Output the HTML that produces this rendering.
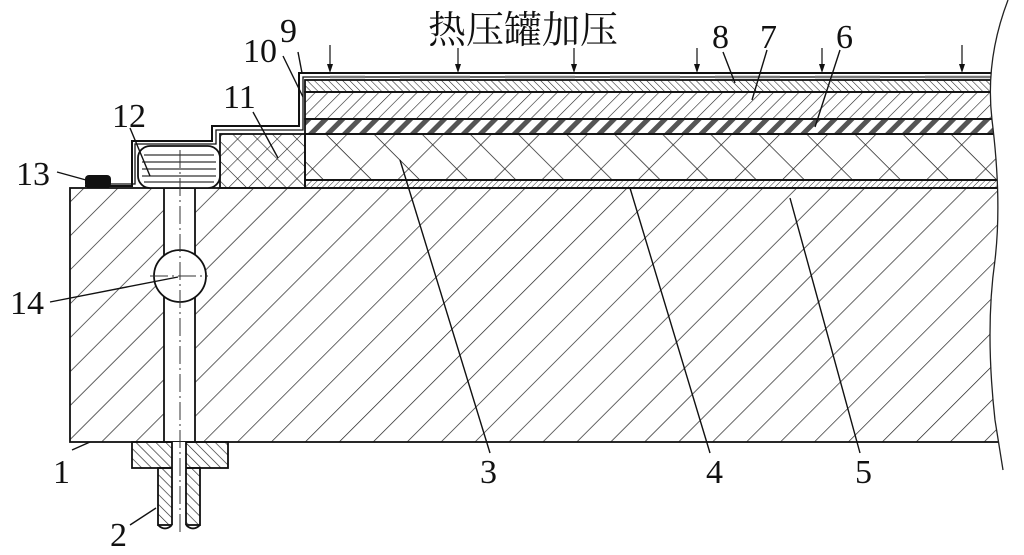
<!DOCTYPE html>
<html><head><meta charset="utf-8"><style>
html,body{margin:0;padding:0;background:#fff;width:1024px;height:555px;overflow:hidden}
svg{display:block}
text{font-family:"Liberation Serif","Noto Serif CJK SC",serif;fill:#111}
</style></head><body>
<svg width="1024" height="555" viewBox="0 0 1024 555" xmlns="http://www.w3.org/2000/svg">
<defs>
<pattern id="base" width="24" height="24" patternUnits="userSpaceOnUse" patternTransform="rotate(45)">
<line x1="0" y1="0" x2="0" y2="24" stroke="#222" stroke-width="1.4"/></pattern>
<pattern id="fit" width="7" height="7" patternUnits="userSpaceOnUse" patternTransform="rotate(-45)">
<line x1="0" y1="0" x2="0" y2="7" stroke="#222" stroke-width="1.3"/></pattern>
<pattern id="l8" width="5" height="5" patternUnits="userSpaceOnUse" patternTransform="rotate(-45)">
<line x1="0" y1="0" x2="0" y2="5" stroke="#222" stroke-width="1.1"/></pattern>
<pattern id="l7" width="9" height="9" patternUnits="userSpaceOnUse" patternTransform="rotate(45)">
<line x1="0" y1="0" x2="0" y2="9" stroke="#222" stroke-width="1.2"/></pattern>
<pattern id="l6" width="12" height="12" patternUnits="userSpaceOnUse" patternTransform="rotate(45)">
<rect x="0" y="0" width="5" height="12" fill="#555"/></pattern>
<pattern id="x3" width="34" height="34" patternUnits="userSpaceOnUse" patternTransform="rotate(45)">
<line x1="0" y1="0" x2="0" y2="34" stroke="#222" stroke-width="1.4"/><line x1="0" y1="0" x2="34" y2="0" stroke="#222" stroke-width="1.4"/></pattern>
<pattern id="x11" width="14" height="14" patternUnits="userSpaceOnUse" patternTransform="rotate(45)">
<line x1="0" y1="0" x2="0" y2="14" stroke="#222" stroke-width="1.2"/><line x1="0" y1="0" x2="14" y2="0" stroke="#222" stroke-width="1.2"/></pattern>
<pattern id="l45" width="4" height="4" patternUnits="userSpaceOnUse" patternTransform="rotate(45)">
<line x1="0" y1="0" x2="0" y2="4" stroke="#333" stroke-width="1"/></pattern>
</defs>
<g stroke="#111" stroke-width="1.8">
<rect x="70" y="188" width="935" height="254" fill="url(#base)"/>
<rect x="164" y="188" width="31" height="254" fill="#fff"/>
<circle cx="180" cy="276" r="26" fill="#fff"/>
<rect x="132" y="442" width="96" height="26" fill="url(#fit)"/>
<rect x="158" y="468" width="42" height="57" fill="url(#fit)"/>
<rect x="172" y="442" width="14" height="90" fill="#fff" stroke="none"/>
<line x1="172" y1="442" x2="172" y2="525"/><line x1="186" y1="442" x2="186" y2="525"/>
<path d="M158 525 Q165 532 172 525 M186 525 Q193 532 200 525" fill="none"/>
<rect x="305" y="80" width="700" height="12" fill="url(#l8)"/>
<rect x="305" y="92" width="700" height="27" fill="url(#l7)"/>
<rect x="305" y="119" width="700" height="15" fill="url(#l6)"/>
<rect x="305" y="134" width="700" height="46" fill="url(#x3)"/>
<rect x="305" y="180" width="700" height="8" fill="url(#l45)"/>
<rect x="220" y="134" width="85" height="54" fill="url(#x11)"/>
<rect x="138" y="146" width="82" height="42" rx="12" fill="#fff"/>
</g>
<g stroke="#333" stroke-width="1.2">
<line x1="144" y1="155" x2="214" y2="155"/><line x1="142" y1="162" x2="216" y2="162"/><line x1="142" y1="169" x2="216" y2="169"/><line x1="142" y1="176" x2="216" y2="176"/><line x1="144" y1="182" x2="214" y2="182"/>
</g>
<path d="M85 186 H132 V141 H212 V126 H299 V73 H1000" fill="none" stroke="#111" stroke-width="2"/>
<path d="M110 184 H135 V144 H216 V130 H303 V77 H1000" fill="none" stroke="#111" stroke-width="1.3"/>
<g stroke="#777" stroke-width="2.5">
<line x1="330" y1="77" x2="365" y2="77"/><line x1="400" y1="77" x2="470" y2="77"/><line x1="505" y1="77" x2="575" y2="77"/><line x1="610" y1="77" x2="680" y2="77"/><line x1="715" y1="77" x2="780" y2="77"/><line x1="815" y1="77" x2="880" y2="77"/><line x1="925" y1="77" x2="990" y2="77"/>
</g>
<rect x="85" y="175" width="26" height="13" rx="4" fill="#111"/>
<g stroke="#333" stroke-width="1" stroke-dasharray="18,4,2,4">
<line x1="180" y1="150" x2="180" y2="532"/><line x1="150" y1="276" x2="208" y2="276"/>
</g>
<path d="M1005 0 Q985 60 992 120 Q1002 200 995 260 Q985 330 995 420 L1003 470 L1024 470 L1024 0 Z" fill="#fff"/>
<path d="M1008 0 Q985 60 992 120 Q1002 200 995 260 Q985 330 995 420 L1003 470" fill="none" stroke="#222" stroke-width="1.3"/>
<g stroke="#111" stroke-width="1.2" fill="#111">
<line x1="330" y1="45" x2="330" y2="66"/><line x1="458" y1="48" x2="458" y2="66"/><line x1="574" y1="48" x2="574" y2="66"/>
<line x1="697" y1="48" x2="697" y2="66"/><line x1="822" y1="48" x2="822" y2="66"/><line x1="962" y1="45" x2="962" y2="66"/>
<path stroke="none" d="M327 64 L333 64 L330 73 Z M455 64 L461 64 L458 73 Z M571 64 L577 64 L574 73 Z M694 64 L700 64 L697 73 Z M819 64 L825 64 L822 73 Z M959 64 L965 64 L962 73 Z"/>
</g>
<g stroke="#111" stroke-width="1.4">
<line x1="57" y1="172" x2="86" y2="180"/>
<line x1="50" y1="302" x2="178" y2="277"/>
<line x1="72" y1="450" x2="90" y2="442"/>
<line x1="130" y1="525" x2="156" y2="508"/>
<line x1="130" y1="128" x2="150" y2="176"/>
<line x1="253" y1="112" x2="278" y2="158"/>
<line x1="283" y1="56" x2="303" y2="97"/>
<line x1="298" y1="52" x2="302" y2="73"/>
<line x1="723" y1="52" x2="735" y2="83"/>
<line x1="767" y1="50" x2="752" y2="100"/>
<line x1="840" y1="50" x2="815" y2="127"/>
<line x1="400" y1="160" x2="490" y2="453"/>
<line x1="630" y1="188" x2="710" y2="453"/>
<line x1="790" y1="198" x2="860" y2="453"/>
</g>
<g font-size="34">
<text x="16" y="185">13</text>
<text x="10" y="314">14</text>
<text x="53" y="483">1</text>
<text x="110" y="546">2</text>
<text x="112" y="127">12</text>
<text x="223" y="108">11</text>
<text x="243" y="62">10</text>
<text x="280" y="42">9</text>
<text x="712" y="48">8</text>
<text x="760" y="48">7</text>
<text x="836" y="48">6</text>
<text x="480" y="483">3</text>
<text x="706" y="483">4</text>
<text x="855" y="483">5</text>
<text x="428" y="43" font-size="38" style="font-family:'Noto Serif CJK SC','Noto Sans CJK SC',serif">热压罐加压</text>
</g>
</svg>
</body></html>
